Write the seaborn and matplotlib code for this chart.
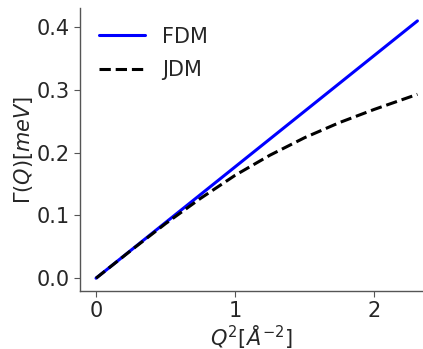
import matplotlib
matplotlib.use("Agg")
import matplotlib.pyplot as plt
import seaborn as sns
import pandas as pd

# Data
q2_fdm = [0.0, 2.31]
gamma_fdm = [0.0, 0.410]
q2_jdm = [0.0, 0.25, 0.5, 0.75, 1.0, 1.25, 1.5, 1.75, 2.0, 2.31]
gamma_jdm = [0.0, 0.044, 0.087, 0.127, 0.164, 0.196, 0.224, 0.248, 0.269, 0.293]
labels = ["FDM", "JDM"]
xticks = [0, 1, 2]
yticks = [0.0, 0.1, 0.2, 0.3, 0.4]

sns.set_style("ticks")
plt.rcParams["font.family"] = ["DejaVu Sans"]
plt.rcParams["mathtext.fontset"] = "dejavusans"

fig = plt.figure(figsize=(4.23, 3.49), dpi=100)
ax = fig.add_axes([0.189, 0.166, 0.811, 0.811])

df_f = pd.DataFrame({"x": q2_fdm, "y": gamma_fdm})
df_j = pd.DataFrame({"x": q2_jdm, "y": gamma_jdm})
sns.lineplot(data=df_f, x="x", y="y", ax=ax, color="#0000ff", lw=2.2, label=labels[0])
sns.lineplot(data=df_j, x="x", y="y", ax=ax, color="black", lw=2.2, ls="--", label=labels[1])

ax.set_xlim(-0.1155, 2.35)
ax.set_ylim(-0.0205, 0.4305)
ax.set_xticks(xticks)
ax.set_yticks(yticks)
ax.set_xticklabels([str(t) for t in xticks])
ax.set_yticklabels([f"{t:.1f}" for t in yticks])
ax.tick_params(labelsize=15, length=4, width=0.8, color="#555555")
ax.set_xlabel(r"$Q^2[Å^{-2}]$", fontsize=15, labelpad=1)
ax.set_ylabel(r"$\Gamma(Q)[meV]$", fontsize=15, labelpad=1)
for s in ["left", "bottom"]:
    ax.spines[s].set_color("#555555")
    ax.spines[s].set_linewidth(1.0)
sns.despine(ax=ax)
ax.legend(loc="upper left", frameon=False, fontsize=15, handlelength=2.2,
          handletextpad=0.85, labelspacing=0.65, borderaxespad=0.5,
          bbox_to_anchor=(0.0, 1.0))

fig.savefig("out.png", dpi=100)
